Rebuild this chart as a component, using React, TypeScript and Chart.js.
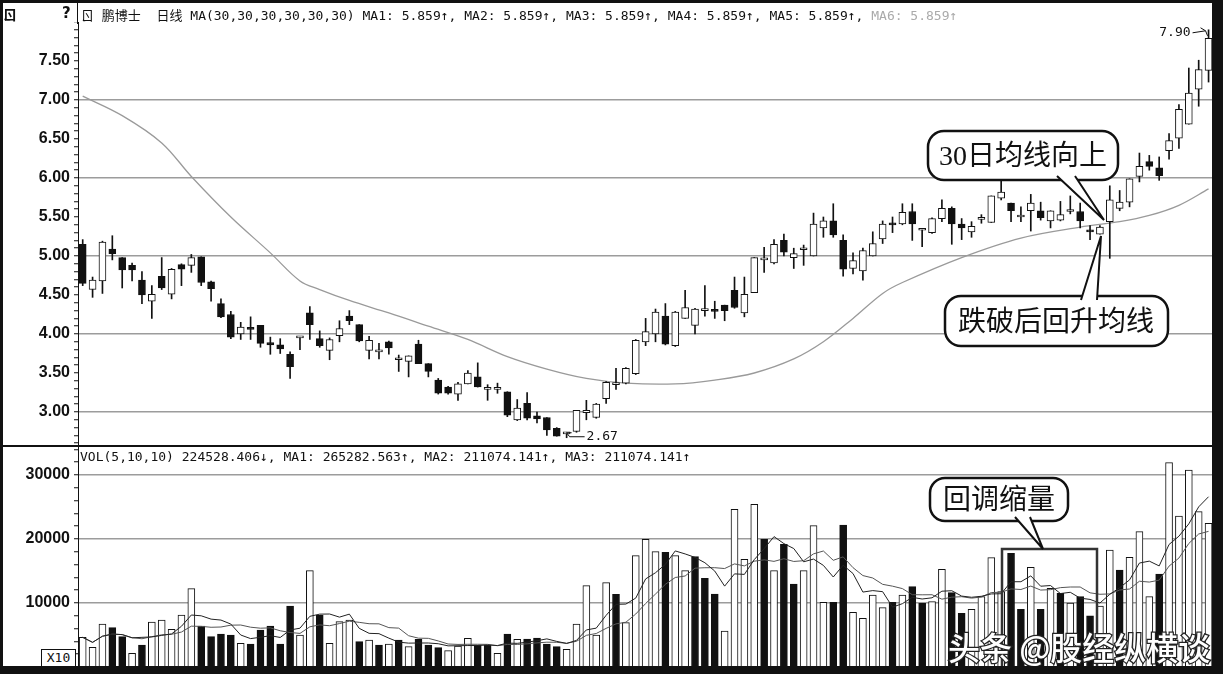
import React, { useEffect, useRef } from 'react';
import { Chart, registerables } from 'chart.js';
Chart.register(...registerables);

// ---- daily candles (price, yuan) ----
const opens = [5.15,4.57,4.68,5.09,4.98,4.88,4.69,4.42,4.74,4.51,4.89,4.88,4.99,4.67,4.39,4.25,4.00,4.07,4.11,3.89,3.86,3.74,3.95,4.27,3.94,3.79,3.98,4.23,4.12,3.79,3.77,3.90,3.67,3.65,3.87,3.62,3.41,3.32,3.23,3.36,3.45,3.29,3.29,3.26,2.90,3.11,2.95,2.93,2.79,2.72,2.75,2.99,2.93,3.17,3.35,3.37,3.49,3.90,4.00,4.23,3.85,4.20,4.11,4.30,4.31,4.37,4.56,4.27,4.53,4.95,4.91,5.20,4.98,5.08,5.00,5.36,5.45,5.20,4.84,4.81,5.00,5.22,5.41,5.41,5.57,5.33,5.30,5.48,5.61,5.41,5.31,5.47,5.43,5.74,5.68,5.50,5.58,5.58,5.45,5.46,5.57,5.57,5.33,5.28,5.44,5.61,5.69,6.02,6.21,6.13,6.35,6.51,6.69,7.14,7.38];
const highs = [5.21,4.73,5.19,5.26,4.98,4.91,4.80,4.62,4.98,4.84,4.90,5.02,4.99,4.68,4.45,4.29,4.15,4.22,4.11,3.96,3.94,3.77,3.96,4.35,4.04,3.95,4.17,4.30,4.12,3.97,3.88,3.91,3.73,3.72,3.92,3.62,3.43,3.33,3.38,3.53,3.63,3.35,3.37,3.26,3.16,3.25,3.00,2.93,2.80,2.74,3.02,3.15,3.11,3.39,3.56,3.57,3.93,4.20,4.32,4.39,4.29,4.56,4.33,4.62,4.42,4.37,4.73,4.73,4.98,5.11,5.21,5.28,5.10,5.14,5.55,5.50,5.67,5.27,5.04,5.10,5.31,5.45,5.50,5.67,5.67,5.34,5.49,5.72,5.63,5.48,5.44,5.53,5.77,6.01,5.68,5.63,5.79,5.69,5.58,5.70,5.77,5.68,5.39,5.39,5.90,5.84,5.99,6.32,6.29,6.27,6.57,6.94,7.41,7.51,7.90];
const lows = [4.62,4.47,4.52,4.95,4.59,4.68,4.39,4.20,4.57,4.45,4.62,4.79,4.62,4.42,4.21,3.94,3.93,3.93,3.83,3.74,3.75,3.43,3.80,3.93,3.83,3.67,3.90,4.12,3.90,3.68,3.68,3.74,3.52,3.45,3.62,3.45,3.23,3.23,3.15,3.36,3.32,3.15,3.24,2.94,2.89,2.90,2.86,2.70,2.69,2.67,2.74,2.90,2.92,3.11,3.29,3.36,3.48,3.85,3.90,3.86,3.84,4.20,4.00,4.23,4.20,4.17,4.33,4.22,4.53,4.79,4.90,5.00,4.84,4.88,5.00,5.24,5.24,4.74,4.77,4.69,5.00,5.16,5.30,5.40,5.20,5.12,5.29,5.44,5.15,5.21,5.24,5.42,5.43,5.72,5.44,5.44,5.32,5.46,5.36,5.45,5.54,5.36,5.21,5.28,4.97,5.58,5.63,5.95,6.10,5.97,6.24,6.38,6.69,6.92,7.23];
const closes = [4.65,4.69,5.18,5.03,4.82,4.82,4.50,4.51,4.59,4.83,4.83,4.98,4.66,4.58,4.22,3.96,4.09,4.06,3.88,3.86,3.81,3.58,3.95,4.12,3.85,3.93,4.07,4.17,3.91,3.92,3.77,3.82,3.67,3.72,3.62,3.52,3.24,3.24,3.36,3.50,3.32,3.29,3.29,2.96,3.05,2.92,2.91,2.77,2.69,2.72,3.02,3.02,3.10,3.38,3.37,3.56,3.92,4.03,4.28,3.87,4.28,4.34,4.32,4.30,4.29,4.30,4.34,4.51,4.98,4.95,5.15,5.05,5.03,5.08,5.41,5.45,5.27,4.83,4.94,5.07,5.16,5.41,5.40,5.56,5.41,5.33,5.48,5.61,5.41,5.36,5.38,5.47,5.77,5.82,5.58,5.52,5.68,5.49,5.58,5.53,5.57,5.45,5.31,5.37,5.72,5.69,5.99,6.15,6.15,6.03,6.48,6.88,7.09,7.39,7.79];

// ---- daily volume (hands, shown x10) ----
const volumes = [4635,3073,6719,6146,4740,2135,3438,7031,7344,5885,8125,12240,6406,4740,5156,5000,3698,3594,5781,6406,3594,9531,5000,15052,8125,3698,7083,7344,3958,4219,3438,3594,4219,3177,4323,3438,3021,2552,3281,4479,3438,3438,2135,5156,4323,4375,4531,3594,3177,2760,6719,12708,5000,13177,11354,6927,17396,19948,18021,17917,17396,15052,17240,13854,11406,5625,24635,16823,25417,19948,15052,19167,12969,15052,22083,10104,10104,22188,8542,7604,11250,9271,10104,11250,12552,9948,10208,15260,11615,8385,9010,10990,17083,11771,17760,9010,15573,9000,12300,11500,10000,11000,8000,9500,18281,15156,17135,21146,10990,14531,31927,23594,30781,24271,22450];

// ---- 30-day price MA (candle index, value) ----
const ma30Index = [0,4,8,11,15,19,22,24,27,31,35,39,43,47,51,55,60,64,68,72,75,78,81,83,89,95,101,105,108,111,114];
const ma30Value = [7.05,6.80,6.45,6.02,5.50,5.04,4.68,4.57,4.43,4.27,4.10,3.93,3.71,3.55,3.43,3.37,3.36,3.41,3.50,3.68,3.90,4.20,4.52,4.66,4.98,5.23,5.37,5.44,5.52,5.65,5.86];

// ---- axis ticks ----
const priceTickLabels = [3.0,3.5,4.0,4.5,5.0,5.5,6.0,6.5,7.0,7.5];
const priceGridValues = [3,4,5,6,7];
const volumeTickLabels = [10000,20000,30000];

const PRICE_MIN = 2.5641;
const PRICE_MAX = 8.0;
const PRICE_MINOR_STEP = 0.1;
const VOL_MAX = 34375;
const VOL_MINOR_STEP = 2000;
const X_MIN = -0.476;
const X_MAX = 114.45;

const has = (arr: number[], v: number) => arr.some((a) => Math.abs(a - v) < 1e-6 * Math.max(1, Math.abs(a)));

function minorTicks(min: number, max: number, step: number) {
  const out: { value: number }[] = [];
  const first = Math.ceil(min / step - 1e-9);
  const last = Math.floor(max / step + 1e-9);
  for (let k = first; k <= last; k++) out.push({ value: Math.round(k * step * 1e6) / 1e6 });
  return out;
}

function movingAvg(src: number[], n: number) {
  return src.map((_, i) => {
    const s = Math.max(0, i - n + 1);
    const part = src.slice(s, i + 1);
    return part.reduce((a, b) => a + b, 0) / part.length;
  });
}

const MONO = '"DejaVu Sans Mono", "Noto Sans CJK SC", monospace';

const extremaPlugin = {
  id: 'extrema',
  afterDatasetsDraw(chart: any) {
    const { ctx, scales } = chart;
    const xs = scales.x;
    const ys = scales.y;
    const hi = Math.max(...highs);
    const hiI = highs.indexOf(hi);
    const lo = Math.min(...lows);
    const loI = lows.indexOf(lo);
    ctx.save();
    ctx.font = '13px ' + MONO;
    ctx.fillStyle = '#111';
    ctx.strokeStyle = '#111';
    ctx.lineWidth = 1;
    ctx.textBaseline = 'middle';
    const hx = xs.getPixelForValue(hiI);
    const hy = ys.getPixelForValue(hi) + 3;
    ctx.textAlign = 'right';
    ctx.fillText(hi.toFixed(2), hx - 18, hy);
    ctx.beginPath();
    ctx.moveTo(hx - 16, hy);
    ctx.lineTo(hx - 3, hy - 2);
    ctx.lineTo(hx - 1, hy + 3);
    ctx.moveTo(hx - 3, hy - 2);
    ctx.lineTo(hx - 8, hy - 5);
    ctx.stroke();
    const lx = xs.getPixelForValue(loI);
    const ly = ys.getPixelForValue(lo) - 1;
    ctx.textAlign = 'left';
    ctx.fillText(lo.toFixed(2), lx + 20, ly);
    ctx.beginPath();
    ctx.moveTo(lx + 18, ly);
    ctx.lineTo(lx + 3, ly);
    ctx.lineTo(lx, ly - 4);
    ctx.moveTo(lx, ly - 4);
    ctx.lineTo(lx + 5, ly - 4);
    ctx.stroke();
    ctx.restore();
  },
};

export default function App() {
  const priceRef = useRef<HTMLCanvasElement>(null);
  const volRef = useRef<HTMLCanvasElement>(null);

  useEffect(() => {
    document.body.style.margin = '0';
    const up = opens.map((o, i) => closes[i] >= o);
    const volUp = closes.map((c, i) => i === 0 || c >= closes[i - 1]);
    const ma5 = movingAvg(volumes, 5);
    const ma10 = movingAvg(volumes, 10);
    const tickFont = { family: '"Liberation Sans", Arial, sans-serif', size: 16, weight: 'bold' as const };

    const pc = new Chart(priceRef.current!, {
      type: 'bar',
      data: {
        datasets: [
          {
            type: 'bar',
            label: 'body',
            data: opens.map((o, i) => ({ x: i, y: [o, closes[i]] })) as any,
            backgroundColor: up.map((u) => (u ? '#ffffff' : '#111111')),
            borderColor: '#111111',
            borderWidth: 1,
            borderSkipped: false,
            barThickness: 7,
            minBarLength: 2,
            grouped: false,
            order: 0,
          } as any,
          {
            type: 'bar',
            label: 'wick',
            data: lows.map((l, i) => ({ x: i, y: [l, highs[i]] })) as any,
            backgroundColor: '#111111',
            borderWidth: 0,
            barThickness: 1,
            grouped: false,
            order: 1,
          } as any,
          {
            type: 'line',
            label: 'MA30',
            data: ma30Index.map((x, k) => ({ x, y: ma30Value[k] })),
            borderColor: '#9a9a9a',
            borderWidth: 1.3,
            pointRadius: 0,
            tension: 0.35,
            order: 2,
          } as any,
        ],
      },
      options: {
        animation: false,
        responsive: false,
        maintainAspectRatio: false,
        layout: { padding: 0 },
        plugins: { legend: { display: false }, tooltip: { enabled: false } },
        scales: {
          x: { type: 'linear', min: X_MIN, max: X_MAX, display: false, offset: false },
          y: {
            type: 'linear',
            min: PRICE_MIN,
            max: PRICE_MAX,
            position: 'left',
            afterBuildTicks: (s: any) => {
              s.ticks = minorTicks(PRICE_MIN, PRICE_MAX, PRICE_MINOR_STEP);
            },
            afterFit: (s: any) => {
              s.width = 78;
              s.paddingTop = 0;
              s.paddingBottom = 0;
            },
            border: { display: true, color: '#111', width: 1 },
            grid: {
              color: (c: any) => (c.tick && has(priceGridValues, c.tick.value) ? '#9c9c9c' : 'rgba(0,0,0,0)'),
              lineWidth: 1.5,
              tickColor: '#111',
              tickWidth: 1,
              tickLength: 4,
            },
            ticks: {
              autoSkip: false,
              padding: 4,
              color: '#111',
              font: tickFont,
              callback: (v: any) => (has(priceTickLabels, Number(v)) ? Number(v).toFixed(2) : ''),
            },
          } as any,
        },
      },
      plugins: [extremaPlugin],
    });

    const vc = new Chart(volRef.current!, {
      type: 'bar',
      data: {
        datasets: [
          {
            type: 'line',
            label: 'MA5',
            data: ma5.map((v, i) => ({ x: i, y: v })),
            borderColor: '#222',
            borderWidth: 1,
            pointRadius: 0,
            tension: 0,
            order: 0,
          } as any,
          {
            type: 'line',
            label: 'MA10',
            data: ma10.map((v, i) => ({ x: i, y: v })),
            borderColor: '#555',
            borderWidth: 1,
            pointRadius: 0,
            tension: 0,
            order: 0,
          } as any,
          {
            type: 'bar',
            label: 'VOL',
            data: volumes.map((v, i) => ({ x: i, y: v })),
            backgroundColor: volUp.map((u) => (u ? '#ffffff' : '#111111')),
            borderColor: '#111111',
            borderWidth: 1,
            barThickness: 7,
            order: 1,
          } as any,
        ],
      },
      options: {
        animation: false,
        responsive: false,
        maintainAspectRatio: false,
        layout: { padding: 0 },
        plugins: { legend: { display: false }, tooltip: { enabled: false } },
        scales: {
          x: { type: 'linear', min: X_MIN, max: X_MAX, display: false, offset: false },
          y: {
            type: 'linear',
            min: 0,
            max: VOL_MAX,
            position: 'left',
            afterBuildTicks: (s: any) => {
              s.ticks = minorTicks(0, VOL_MAX, VOL_MINOR_STEP);
            },
            afterFit: (s: any) => {
              s.width = 78;
              s.paddingTop = 0;
              s.paddingBottom = 0;
            },
            border: { display: true, color: '#111', width: 1 },
            grid: {
              color: (c: any) => (c.tick && has(volumeTickLabels, c.tick.value) ? '#9c9c9c' : 'rgba(0,0,0,0)'),
              lineWidth: 1.5,
              tickColor: '#111',
              tickWidth: 1,
              tickLength: 4,
            },
            ticks: {
              autoSkip: false,
              padding: 4,
              color: '#111',
              font: tickFont,
              callback: (v: any) => (has(volumeTickLabels, Number(v)) ? String(v) : ''),
            },
          } as any,
        },
      },
    });

    return () => {
      pc.destroy();
      vc.destroy();
    };
  }, []);

  const black = '#111';
  return (
    <div style={{ position: 'relative', width: 1223, height: 674, background: '#fff', overflow: 'hidden' }}>
      <canvas ref={priceRef} width={1213} height={424} style={{ position: 'absolute', left: 0, top: 22, width: 1213, height: 424 }} />
      <canvas ref={volRef} width={1213} height={220} style={{ position: 'absolute', left: 0, top: 447, width: 1213, height: 220 }} />

      {/* header */}
      <div style={{ position: 'absolute', left: 3, top: 4, font: 'bold 14px "Noto Sans CJK SC"', color: black }}>ㄖ</div>
      <div style={{ position: 'absolute', left: 62, top: 4, font: 'bold 15px "DejaVu Sans"', color: black }}>?</div>
      <div style={{ position: 'absolute', left: 81, top: 5, font: '13px ' + MONO, color: black, whiteSpace: 'pre' }}>
        {'ㄖ 鹏博士  日线 MA(30,30,30,30,30,30) MA1: 5.859↑, MA2: 5.859↑, MA3: 5.859↑, MA4: 5.859↑, MA5: 5.859↑, '}
        <span style={{ color: '#aaa' }}>{'MA6: 5.859↑'}</span>
      </div>
      <div style={{ position: 'absolute', left: 80, top: 449, font: '13px ' + MONO, color: black, whiteSpace: 'pre' }}>
        {'VOL(5,10,10) 224528.406↓, MA1: 265282.563↑, MA2: 211074.141↑, MA3: 211074.141↑'}
      </div>

      {/* frame lines */}
      <div style={{ position: 'absolute', left: 77, top: 0, width: 1, height: 24, background: black }} />
      <div style={{ position: 'absolute', left: 0, top: 445, width: 1213, height: 2, background: black }} />
      <div style={{ position: 'absolute', left: 41, top: 649, width: 33, height: 16, border: '1px solid ' + black, background: '#fff', font: '13px ' + MONO, lineHeight: '16px', textAlign: 'center', color: black }}>X10</div>

      <svg width={1223} height={674} style={{ position: 'absolute', left: 0, top: 0, pointerEvents: 'none' }}>
        {/* callout 1 */}
        <rect x={928} y={131} width={190} height={49} rx={16} fill="#fff" stroke={black} strokeWidth={2.5} />
        <path d="M1057,176 L1104,220 L1075,176" fill="#fff" stroke={black} strokeWidth={2} />
        <text x={1023} y={165} textAnchor="middle" fontSize={28} fontFamily='"Liberation Serif", "Noto Sans CJK SC"' fill={black}>30日均线向上</text>
        {/* callout 2 */}
        <rect x={945} y={296} width={223} height={50} rx={16} fill="#fff" stroke={black} strokeWidth={2.5} />
        <path d="M1081,300 L1101,236 L1097,300" fill="#fff" stroke={black} strokeWidth={2} />
        <text x={1056} y={331} textAnchor="middle" fontSize={28} fontFamily='"Noto Sans CJK SC"' fill={black}>跌破后回升均线</text>
        {/* callout 3 */}
        <rect x={1002} y={549} width={95} height={120} fill="none" stroke="#333" strokeWidth={2.5} />
        <rect x={930} y={478} width={138} height={43} rx={15} fill="#fff" stroke={black} strokeWidth={2.5} />
        <path d="M1015,517 L1043,549 L1030,517" fill="#fff" stroke={black} strokeWidth={2} />
        <text x={999} y={509} textAnchor="middle" fontSize={28} fontFamily='"Noto Sans CJK SC"' fill={black}>回调缩量</text>
        {/* watermark */}
        <text x={948} y={660} fontSize={32} fontWeight={500} fontFamily='"Noto Sans CJK SC"' fill="#fff" stroke="#222" strokeWidth={2.5} paintOrder="stroke">头条 @股经纵横谈</text>
      </svg>

      {/* outer frame */}
      <div style={{ position: 'absolute', left: 0, top: 0, width: 1223, height: 3, background: black }} />
      <div style={{ position: 'absolute', left: 0, top: 0, width: 3, height: 674, background: black }} />
      <div style={{ position: 'absolute', left: 1212, top: 0, width: 11, height: 674, background: black }} />
      <div style={{ position: 'absolute', left: 0, top: 666, width: 1223, height: 8, background: black }} />
    </div>
  );
}
